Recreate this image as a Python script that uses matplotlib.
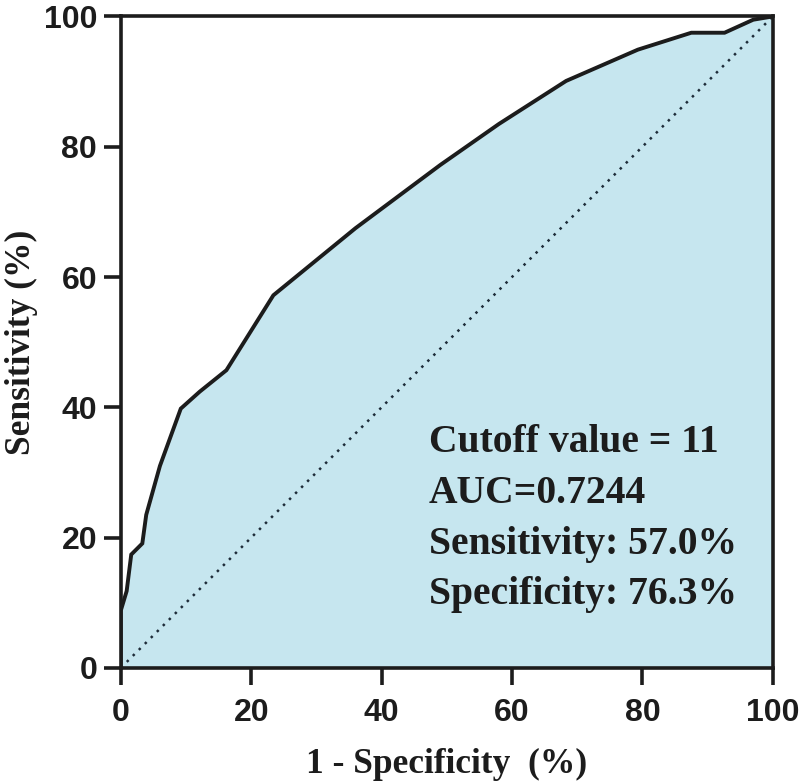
import matplotlib
matplotlib.use('Agg')
import matplotlib.pyplot as plt

# ── Dados da curva ROC ───────────────────────────────────────────────────────
fpr = [0, 0, 0.9, 1.6, 3.3, 3.9, 6.0, 9.2, 12.1, 16.2, 23.4, 36.0, 49.0, 58.0,
       68.3, 79.3, 87.5, 92.6, 97.0, 100]
tpr = [0, 8.8, 11.8, 17.4, 19.1, 23.5, 31.0, 39.8, 42.4, 45.7, 57.2, 67.5, 77.2,
       83.5, 90.1, 94.9, 97.5, 97.5, 99.5, 100]
ticks = [0, 20, 40, 60, 80, 100]
info = ['Cutoff value = 11', 'AUC=0.7244', 'Sensitivity: 57.0%', 'Specificity: 76.3%']

serif = ['Liberation Serif', 'DejaVu Serif']
narrow = ['Liberation Sans Narrow', 'Liberation Sans', 'DejaVu Sans']

fig = plt.figure(figsize=(8, 7.83), dpi=100)
ax = fig.add_axes([0.151, 0.147, 0.815, 0.832])

ax.fill_between(fpr, tpr, 0, color='#c6e6ef', zorder=1)
ax.plot(fpr, tpr, color='#1c1c1c', lw=2.8, solid_joinstyle='miter', zorder=3)
ax.plot([0, 100], [0, 100], color='#1d2b38', lw=1.8, ls=(0, (1.0, 2.4)), zorder=2)

ax.set_xlim(0, 100)
ax.set_ylim(0, 100)
ax.set_xticks(ticks)
ax.set_yticks(ticks)
for s in ax.spines.values():
    s.set_linewidth(2.6)
    s.set_color('#1c1c1c')
    s.set_zorder(4)
ax.tick_params(length=12, width=2.6, color='#1c1c1c', pad=5)
ax.tick_params(axis='x', pad=10)
for lab in ax.get_xticklabels() + ax.get_yticklabels():
    lab.set_family(narrow)
    lab.set_fontweight('bold')
    lab.set_fontsize(23)
    lab.set_color('#1c1c1c')

ax.set_xlabel('1 - Specificity  (%)', family=serif, fontweight='bold', fontsize=25.5,
              color='#1c1c1c', labelpad=14)
ax.set_ylabel('Sensitivity (%)', family=serif, fontweight='bold', fontsize=25.5,
              color='#1c1c1c', labelpad=4)

y0 = 0.346
for i, t in enumerate(info):
    ax.text(0.472, y0 - i * 0.078, t, transform=ax.transAxes, family=serif,
            fontweight='bold', fontsize=28.5, color='#1c1c1c', va='center', zorder=5)

fig.savefig('out.png', dpi=100)
